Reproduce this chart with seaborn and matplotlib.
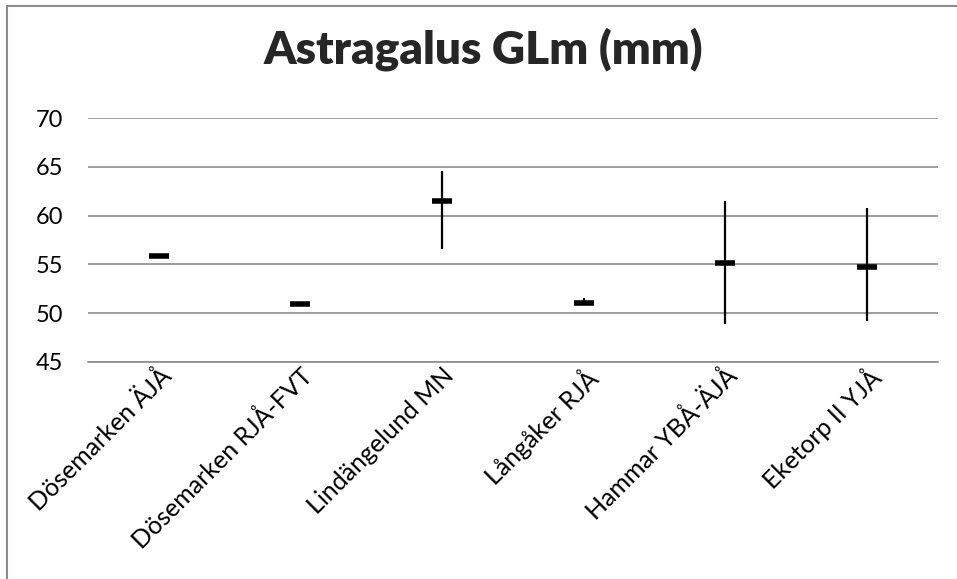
import pandas as pd
import numpy as np
import matplotlib.pyplot as plt
import seaborn as sns
from matplotlib.patches import Rectangle

# values (mm)
sites = ['Dösemarken ÄJÅ', 'Dösemarken RJÅ-FVT', 'Lindängelund MN',
         'Långåker RJÅ', 'Hammar YBÅ-ÄJÅ', 'Eketorp II YJÅ']
means = [55.9, 50.9, 61.5, 51.0, 55.1, 54.7]
highs = [np.nan, np.nan, 64.6, 51.5, 61.5, 60.8]
lows = [np.nan, np.nan, 56.6, 50.9, 48.9, 49.2]

df = pd.DataFrame({'site': sites, 'mean': means, 'high': highs, 'low': lows})

sns.set_style('white')
plt.rcParams['font.family'] = ['Lato', 'DejaVu Sans']

fig = plt.figure(figsize=(9.57, 5.79), dpi=100)
ax = fig.add_axes([0.092, 0.375, 0.888, 0.421])

# mean markers (first, so the category order is fixed by the site list)
sns.scatterplot(data=df, x='site', y='mean', marker='_', s=190, linewidth=4,
                color='black', ax=ax, zorder=4, legend=False)

# min-max ranges
rng = df.dropna(subset=['high'])
ax.vlines(rng['site'], rng['low'], rng['high'], color='black', linewidth=1.6, zorder=3)

ax.set_xlim(-0.5, len(sites) - 0.5)
ax.set_ylim(45, 70)
ax.set_yticks(range(45, 71, 5))
ax.yaxis.grid(True, color='#8c8c8c', linewidth=1.2)
ax.set_axisbelow(True)
for side in ['left', 'right', 'top']:
    ax.spines[side].set_visible(False)
ax.spines['bottom'].set_color('#8c8c8c')
ax.spines['bottom'].set_linewidth(1.2)

ax.set_xlabel('')
ax.set_ylabel('')
ax.tick_params(axis='y', length=0, labelsize=17, pad=18, colors='black')
ax.tick_params(axis='x', length=0, labelsize=18, pad=1, colors='black')
plt.setp(ax.get_xticklabels(), rotation=45, ha='right', rotation_mode='anchor')

fig.text(0.505, 0.915, 'Astragalus GLm (mm)', ha='center', va='center',
         fontsize=33, fontweight='heavy')

# chart border (cropped on right and bottom)
fig.patches.append(Rectangle((7 / 957, -0.05), 1.1, 1 - 6 / 579 + 0.05,
                             transform=fig.transFigure, fill=False,
                             edgecolor='#8c8c8c', linewidth=1.5))

fig.savefig('out.png', dpi=100)
